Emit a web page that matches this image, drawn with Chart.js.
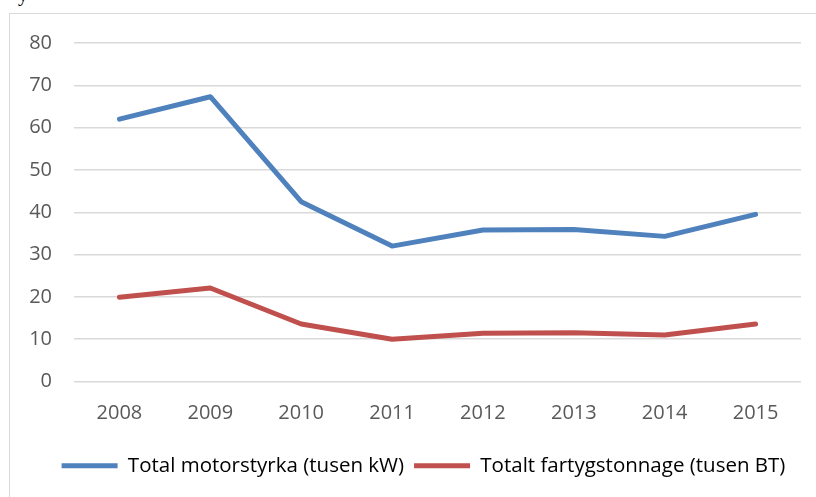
<!DOCTYPE html>
<html>
<head>
<meta charset="utf-8">
<script src="https://cdn.jsdelivr.net/npm/chart.js@4"></script>
<style>
  html, body { margin: 0; padding: 0; background: #fff; overflow: hidden; }
  #wrap { position: relative; width: 816px; height: 497px; }
  #frame { position: absolute; left: 9px; top: 13px; width: 820px; height: 500px; border: 1px solid #d9d9d9; }
  #cut { position: absolute; left: 18px; top: -17px; font: 20px "Liberation Serif", serif; color: #000; }
  canvas { position: absolute; left: 0; top: 0; }
</style>
</head>
<body>
<div id="wrap">
  <div id="cut">y</div>
  <div id="frame"></div>
  <canvas id="chart" width="816" height="497"></canvas>
</div>
<script>
// Years and values
const years = ['2008', '2009', '2010', '2011', '2012', '2013', '2014', '2015'];
const motorstyrka = [62.0, 67.3, 42.5, 32.0, 35.8, 35.9, 34.3, 39.5];
const tonnage = [19.9, 22.1, 13.6, 10.0, 11.4, 11.5, 11.0, 13.6];
const seriesNames = ['Total motorstyrka (tusen kW)', 'Totalt fartygstonnage (tusen BT)'];

const textColor = '#595959';
const gridColor = '#d9d9d9';
const font = { family: '"Open Sans", "Liberation Sans", sans-serif', size: 20 };
const legendFont = { family: '"Open Sans", "Liberation Sans", sans-serif', size: 20.5 };

// the legend sits a bit right of the plot centre in the original
const shiftLegend = {
  id: 'shiftLegend',
  afterLayout(chart) {
    chart.legend.left += 18;
    chart.legend.right += 18;
  }
};

new Chart(document.getElementById('chart').getContext('2d'), {
  type: 'line',
  data: {
    labels: years,
    datasets: [
      {
        label: seriesNames[0],
        data: motorstyrka,
        borderColor: '#4f81bd',
        backgroundColor: '#4f81bd',
        borderWidth: 5,
        borderCapStyle: 'round',
        borderJoinStyle: 'round',
        pointRadius: 0,
        tension: 0
      },
      {
        label: seriesNames[1],
        data: tonnage,
        borderColor: '#c0504d',
        backgroundColor: '#c0504d',
        borderWidth: 5,
        borderCapStyle: 'round',
        borderJoinStyle: 'round',
        pointRadius: 0,
        tension: 0
      }
    ]
  },
  plugins: [shiftLegend],
  options: {
    responsive: false,
    animation: false,
    layout: { padding: { left: 10, right: 15, top: 43, bottom: 11 } },
    plugins: {
      tooltip: { enabled: false },
      legend: {
        position: 'bottom',
        labels: {
          color: textColor,
          font: legendFont,
          boxWidth: 56,
          boxHeight: 5,
          padding: 10,
          generateLabels: function(chart) {
            return chart.data.datasets.map((ds, i) => ({
              text: ds.label,
              fillStyle: ds.borderColor,
              strokeStyle: ds.borderColor,
              lineWidth: 0,
              datasetIndex: i
            }));
          }
        }
      }
    },
    scales: {
      x: {
        offset: true,
        grid: { display: false },
        border: { display: false },
        ticks: { color: textColor, font: font, padding: 12, maxRotation: 0 },
        afterFit: function(scale) { scale.height = 64; }
      },
      y: {
        min: 0,
        max: 80,
        ticks: { stepSize: 10, color: textColor, font: font, padding: 22 },
        grid: { color: gridColor, lineWidth: 1.5, drawTicks: false },
        border: { display: false },
        afterFit: function(scale) { scale.width = 64; }
      }
    }
  }
});
</script>
</body>
</html>
